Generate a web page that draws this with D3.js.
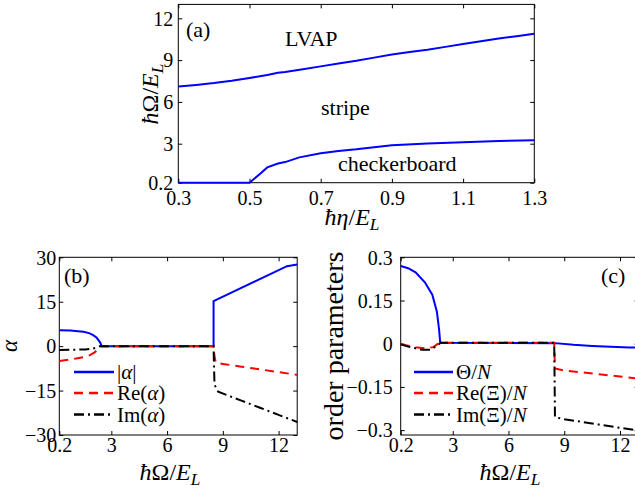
<!DOCTYPE html>
<html>
<head>
<meta charset="utf-8">
<script src="https://cdn.jsdelivr.net/npm/d3@7"></script>
<style>
body { margin: 0; background: #fff; }
svg text { font-family: "Liberation Serif", "Times New Roman", serif; fill: #000; }
</style>
</head>
<body>
<svg id="chart" width="635" height="490"></svg>
<script>
// (a) phase boundaries
var etaUpper = [0.3, 0.35, 0.4, 0.45, 0.5, 0.55, 0.58, 0.6, 0.65, 0.7, 0.75, 0.8, 0.85, 0.9, 0.95, 1.0, 1.05, 1.1, 1.15, 1.2, 1.25, 1.3];
var omegaUpper = [7.1, 7.22, 7.35, 7.52, 7.72, 7.93, 8.1, 8.15, 8.35, 8.55, 8.75, 8.95, 9.18, 9.4, 9.58, 9.75, 9.95, 10.15, 10.35, 10.55, 10.72, 10.9];
var etaLower = [0.3, 0.4, 0.5, 0.53, 0.55, 0.58, 0.6, 0.64, 0.7, 0.75, 0.8, 0.85, 0.9, 1.0, 1.1, 1.2, 1.3];
var omegaLower = [0.2, 0.2, 0.2, 0.85, 1.3, 1.58, 1.68, 2.02, 2.32, 2.48, 2.6, 2.75, 2.88, 3.02, 3.1, 3.2, 3.25];

// (b) alpha
var absAlphaX = [0.2, 0.8, 1.2, 1.5, 1.8, 2.0, 2.2, 2.3, 2.4, 2.48, 8.5, 8.5, 12.45, 13];
var absAlphaY = [5.4, 5.25, 5.05, 4.85, 4.4, 3.8, 2.9, 2.1, 1.2, 0, 0, 15.2, 27.0, 27.6];
var reAlphaX = [0.2, 0.7, 1.1, 1.5, 1.85, 2.1, 2.25, 2.4, 8.5, 8.55, 8.62, 9, 10, 11, 12, 13];
var reAlphaY = [-5.0, -4.6, -4.2, -3.7, -3.05, -2.1, -1.3, 0, 0, -3.5, -5.6, -6.0, -6.92, -7.85, -8.77, -9.7];
var imAlphaX = [0.2, 1.0, 1.6, 2.0, 2.2, 2.4, 8.5, 8.55, 8.75, 10, 11, 12, 13];
var imAlphaY = [-1.3, -1.2, -1.1, -0.8, -0.5, 0, 0, -13.0, -15.4, -18.4, -20.8, -23.2, -25.6];

// (c) order parameters
var thetaX = [0.2, 0.6, 1.0, 1.5, 1.9, 2.15, 2.27, 2.32, 2.4, 8.5, 9.5, 10.5, 11.5, 12.5, 13];
var thetaY = [0.27, 0.262, 0.248, 0.213, 0.17, 0.11, 0.046, 0.006, 0.003, 0.002, -0.004, -0.008, -0.011, -0.013, -0.014];
var reXiX = [0.2, 0.6, 1.0, 1.5, 1.95, 2.26, 2.4, 8.46, 8.5, 9, 10, 11, 12, 13];
var reXiY = [-0.002, -0.007, -0.012, -0.016, -0.012, 0.002, 0.003, 0.003, -0.086, -0.093, -0.1, -0.107, -0.114, -0.121];
var imXiX = [0.2, 0.6, 1.0, 1.33, 1.78, 2.1, 2.35, 8.46, 8.5, 9, 10, 11, 12, 13];
var imXiY = [-0.002, -0.01, -0.016, -0.021, -0.021, -0.01, 0.003, 0.003, -0.255, -0.262, -0.272, -0.282, -0.292, -0.302];

var ticksEta = [0.3, 0.5, 0.7, 0.9, 1.1, 1.3];
var ticksOmegaA = [0.2, 3, 6, 9, 12];
var ticksOmega = [0.2, 3, 6, 9, 12];
var ticksAlpha = [-30, -15, 0, 15, 30];
var ticksOrder = [-0.3, -0.15, 0, 0.15, 0.3];

var svg = d3.select("#chart");
var serif = "Liberation Serif, Times New Roman, serif";

var hbarOmega = [{t: "ħ", i: true}, {t: "Ω"}, {t: "/"}, {t: "E", i: true}, {t: "L", i: true, sub: true}];
var hbarEta = [{t: "ħη", i: true}, {t: "/"}, {t: "E", i: true}, {t: "L", i: true, sub: true}];

function mathText(sel, parts, size) {
  sel.attr("font-size", size);
  parts.forEach(function(p) {
    var ts = sel.append("tspan").text(p.t);
    if (p.i) ts.attr("font-style", "italic");
    if (p.sub) ts.attr("font-size", size * 0.72).attr("dy", size * 0.2);
  });
  return sel;
}

function zip(xs, ys) {
  return xs.map(function(v, i) { return [v, ys[i]]; });
}

function drawFrame(x, y, opt) {
  var g = svg.append("g");
  var x0 = x.range()[0], x1 = x.range()[1], y0 = y.range()[0], y1 = y.range()[1];

  var bottom = g.append("g")
      .attr("transform", "translate(0," + y0 + ")")
      .call(d3.axisBottom(x).tickValues(opt.xticks).tickSize(-4).tickSizeOuter(0).tickFormat(opt.xfmt));
  bottom.selectAll("text").attr("dy", null).attr("y", opt.xlabelY);

  g.append("g")
      .attr("transform", "translate(0," + y1 + ")")
      .call(d3.axisTop(x).tickValues(opt.xticks).tickSize(-4).tickSizeOuter(0).tickFormat(""));

  var left = g.append("g")
      .attr("transform", "translate(" + x0 + ",0)")
      .call(d3.axisLeft(y).tickValues(opt.yticks).tickSize(-4).tickSizeOuter(0).tickFormat(opt.yfmt));
  left.selectAll("text").attr("x", -opt.ylabelGap).attr("dy", "0.34em");

  g.append("g")
      .attr("transform", "translate(" + x1 + ",0)")
      .call(d3.axisRight(y).tickValues(opt.yticks).tickSize(-4).tickSizeOuter(0).tickFormat(""));

  g.selectAll(".domain").remove();
  g.selectAll(".tick line").attr("stroke", "#000");
  g.selectAll("g").attr("font-family", serif).attr("font-size", 20);
  g.selectAll(".tick text").attr("font-family", serif).attr("font-size", 20);

  g.append("rect")
      .attr("x", x0).attr("y", y1)
      .attr("width", x1 - x0).attr("height", y0 - y1)
      .attr("fill", "none").attr("stroke", "#000").attr("stroke-width", 1);
}

function drawLine(x, y, xs, ys, color, dash, width) {
  var line = d3.line().x(function(d) { return x(d[0]); }).y(function(d) { return y(d[1]); });
  svg.append("path")
      .datum(zip(xs, ys))
      .attr("d", line)
      .attr("fill", "none")
      .attr("stroke", color)
      .attr("stroke-width", width || 2)
      .attr("stroke-dasharray", dash || null);
}

function drawLegend(x0, x1, rows) {
  rows.forEach(function(r) {
    svg.append("line")
        .attr("x1", x0).attr("x2", x1).attr("y1", r.y).attr("y2", r.y)
        .attr("stroke", r.color).attr("stroke-width", 2.5)
        .attr("stroke-dasharray", r.dash || null);
    mathText(svg.append("text").attr("x", x1 + 3).attr("y", r.y + 7), r.label, 21);
  });
}

var fmtNum = function(d) { return d3.format("")(d).replace("-", "\u2212"); };

// ---------- (a)
var xa = d3.scaleLinear().domain([0.3, 1.3]).range([178.3, 534.3]);
var ya = d3.scaleLinear().domain([0.2, 13]).range([182.7, 4.4]);
drawFrame(xa, ya, {xticks: ticksEta, yticks: ticksOmegaA, xfmt: fmtNum, yfmt: fmtNum, xlabelY: 22, ylabelGap: 5});
drawLine(xa, ya, etaUpper, omegaUpper, "#0000ff");
drawLine(xa, ya, etaLower, omegaLower, "#0000ff");
svg.append("text").attr("x", 186).attr("y", 37).attr("font-size", 22).text("(a)");
svg.append("text").attr("x", 285).attr("y", 46).attr("font-size", 22).text("LVAP");
svg.append("text").attr("x", 321).attr("y", 115).attr("font-size", 22).text("stripe");
svg.append("text").attr("x", 338).attr("y", 171).attr("font-size", 22).text("checkerboard");
mathText(svg.append("text").attr("x", 352).attr("y", 225).attr("text-anchor", "middle"), hbarEta, 24);
mathText(svg.append("text").attr("transform", "translate(158,94) rotate(-90)").attr("text-anchor", "middle"), hbarOmega, 24);

// ---------- (b)
var xb = d3.scaleLinear().domain([0.2, 13]).range([59.3, 297.2]);
var yb = d3.scaleLinear().domain([-30, 30]).range([435, 257.3]);
drawFrame(xb, yb, {xticks: ticksOmega, yticks: ticksAlpha, xfmt: fmtNum, yfmt: fmtNum, xlabelY: 17, ylabelGap: 3});
drawLine(xb, yb, absAlphaX, absAlphaY, "#0000ff");
drawLine(xb, yb, reAlphaX, reAlphaY, "#ff0000", "9,6");
drawLine(xb, yb, imAlphaX, imAlphaY, "#000", "10,4,2,4");
svg.append("text").attr("x", 64).attr("y", 283).attr("font-size", 22).text("(b)");
drawLegend(74, 114, [
  {y: 372, color: "#0000ff", label: [{t: "|"}, {t: "α", i: true}, {t: "|"}]},
  {y: 393, color: "#ff0000", dash: "9,6", label: [{t: "Re("}, {t: "α", i: true}, {t: ")"}]},
  {y: 414.5, color: "#000", dash: "10,4,2,4", label: [{t: "Im("}, {t: "α", i: true}, {t: ")"}]}
]);
mathText(svg.append("text").attr("x", 170).attr("y", 480).attr("text-anchor", "middle"), hbarOmega, 24);
mathText(svg.append("text").attr("transform", "translate(17,346) rotate(-90)").attr("text-anchor", "middle"), [{t: "α", i: true}], 23);

// ---------- (c)
var xc = d3.scaleLinear().domain([0.2, 13]).range([400.7, 638.6]);
var yc = d3.scaleLinear().domain([-0.317, 0.3]).range([435, 257.3]);
drawFrame(xc, yc, {xticks: ticksOmega, yticks: ticksOrder, xfmt: fmtNum, yfmt: fmtNum, xlabelY: 17, ylabelGap: 8});
drawLine(xc, yc, thetaX, thetaY, "#0000ff");
drawLine(xc, yc, reXiX, reXiY, "#ff0000", "9,6");
drawLine(xc, yc, imXiX, imXiY, "#000", "10,4,2,4");
svg.append("text").attr("x", 601).attr("y", 283).attr("font-size", 22).text("(c)");
drawLegend(414, 453, [
  {y: 372, color: "#0000ff", label: [{t: "Θ/"}, {t: "N", i: true}]},
  {y: 393, color: "#ff0000", dash: "9,6", label: [{t: "Re(Ξ)/"}, {t: "N", i: true}]},
  {y: 414.5, color: "#000", dash: "10,4,2,4", label: [{t: "Im(Ξ)/"}, {t: "N", i: true}]}
]);
mathText(svg.append("text").attr("x", 510).attr("y", 480).attr("text-anchor", "middle"), hbarOmega, 24);
svg.append("text").attr("transform", "translate(343,346) rotate(-90)").attr("text-anchor", "middle")
    .attr("font-size", 28).text("order parameters");
</script>
</body>
</html>
